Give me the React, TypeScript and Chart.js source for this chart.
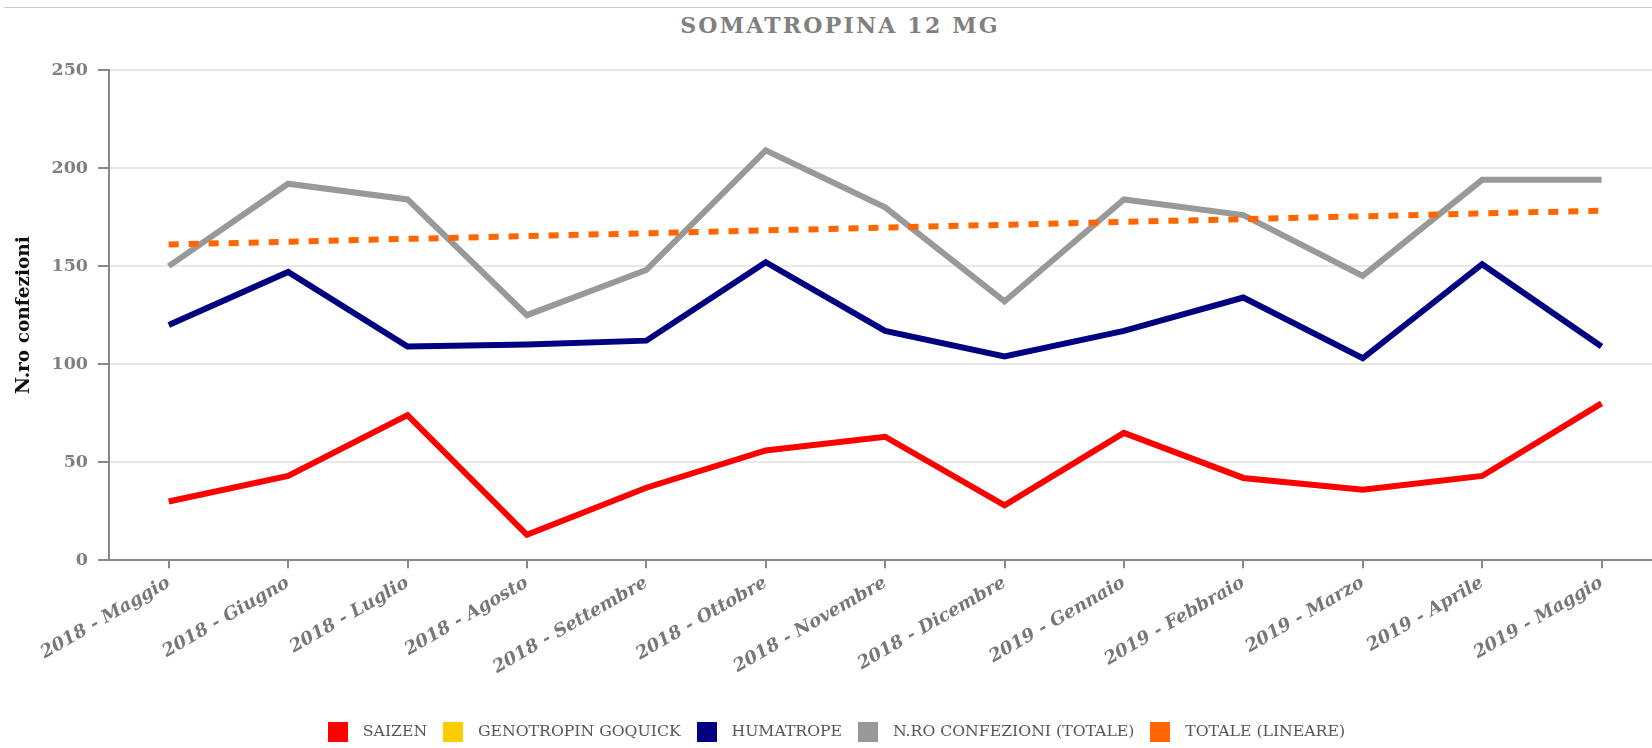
import { useEffect, useRef } from 'react';
import { Chart, registerables } from 'chart.js';

Chart.register(...registerables);

const TITLE = 'SOMATROPINA 12 MG';
const Y_TITLE = 'N.ro confezioni';

const months = [
  '2018 - Maggio',
  '2018 - Giugno',
  '2018 - Luglio',
  '2018 - Agosto',
  '2018 - Settembre',
  '2018 - Ottobre',
  '2018 - Novembre',
  '2018 - Dicembre',
  '2019 - Gennaio',
  '2019 - Febbraio',
  '2019 - Marzo',
  '2019 - Aprile',
  '2019 - Maggio',
];

const yTicks = [0, 50, 100, 150, 200, 250];

const saizen = [30, 43, 74, 13, 37, 56, 63, 28, 65, 42, 36, 43, 80];
const genotropin: number[] = [];
const humatrope = [120, 147, 109, 110, 112, 152, 117, 104, 117, 134, 103, 151, 109];
const totale = [150, 192, 184, 125, 148, 209, 180, 132, 184, 176, 145, 194, 194];
const trendX = [0, 12];
const trendY = [161, 178.3];

const seriesLabels = [
  'SAIZEN',
  'GENOTROPIN GOQUICK',
  'HUMATROPE',
  'N.RO CONFEZIONI (TOTALE)',
  'TOTALE (LINEARE)',
];
const seriesColors = ['#ff0000', '#ffcc00', '#000080', '#999999', '#ff6600'];

const FONT = '"DejaVu Serif", serif';

// canvas slightly larger than the page window; the extra part is clipped
const CANVAS_W = 1666;
const CANVAS_H = 750;

function boxImage(color: string) {
  const c = document.createElement('canvas');
  c.width = 20;
  c.height = 20;
  const g = c.getContext('2d')!;
  g.fillStyle = color;
  g.fillRect(0, 0, 20, 20);
  return c;
}

export default function App() {
  const ref = useRef<HTMLCanvasElement>(null);

  useEffect(() => {
    if (!ref.current) return;
    const toXY = (arr: number[]) => arr.map((v, i) => ({ x: i, y: v }));
    const series = [
      toXY(saizen),
      toXY(genotropin),
      toXY(humatrope),
      toXY(totale),
      trendX.map((x, i) => ({ x, y: trendY[i] })),
    ];
    const chart = new Chart(ref.current, {
      type: 'line',
      data: {
        datasets: series.map((data, i) => ({
          label: seriesLabels[i],
          data,
          borderColor: seriesColors[i],
          backgroundColor: seriesColors[i],
          borderWidth: 6,
          borderDash: i === 4 ? [10, 10] : [],
          order: i === 4 ? -1 : i,
          pointRadius: 0,
          pointHoverRadius: 0,
          tension: 0,
          fill: false,
        })),
      },
      options: {
        animation: false,
        responsive: false,
        devicePixelRatio: 1,
        events: [],
        layout: { padding: { left: 0, right: 0, top: 70, bottom: 0 } },
        plugins: {
          title: { display: false },
          tooltip: { enabled: false },
          legend: {
            position: 'bottom',
            labels: {
              usePointStyle: true,
              pointStyleWidth: 34,
              boxHeight: 16,
              padding: 9,
              color: '#555555',
              font: { family: FONT, size: 15.7 },
              sort: (a: any, b: any) => a.datasetIndex - b.datasetIndex,
              generateLabels: (ch: any) =>
                (Chart.defaults.plugins.legend.labels as any)
                  .generateLabels(ch)
                  .map((l: any) => ({
                    ...l,
                    pointStyle: boxImage(seriesColors[l.datasetIndex]),
                    lineWidth: 0,
                  })),
            },
          },
        },
        scales: {
          x: {
            type: 'linear',
            min: -0.5,
            max: 12.54,
            afterBuildTicks: (s: any) => {
              s.ticks = months.map((_, i) => ({ value: i }));
            },
            afterFit: (s: any) => {
              s.height = 155;
              s.paddingLeft = 0;
              s.paddingRight = 0;
            },
            ticks: {
              autoSkip: false,
              minRotation: 30,
              maxRotation: 30,
              padding: 4,
              color: '#777777',
              font: { family: FONT, size: 18, style: 'italic', weight: 'bold' },
              callback: (v: any) => months[v as number],
            },
            grid: {
              drawOnChartArea: false,
              drawTicks: true,
              tickLength: 8,
              color: '#888888',
              lineWidth: 2,
            },
            border: { display: true, color: '#888888', width: 2 },
          },
          y: {
            type: 'linear',
            min: 0,
            max: 250,
            afterBuildTicks: (s: any) => {
              s.ticks = yTicks.map((v) => ({ value: v }));
            },
            afterFit: (s: any) => {
              s.width = 109;
              s.paddingTop = 0;
              s.paddingBottom = 0;
            },
            ticks: {
              padding: 10,
              color: '#808080',
              font: { family: FONT, size: 17.5, weight: 'bold' },
            },
            grid: {
              color: '#e8e8e8',
              lineWidth: 2,
              tickColor: '#888888',
              tickWidth: 2,
              tickLength: 11,
              drawTicks: true,
            },
            border: { display: true, color: '#888888', width: 2 },
            title: {
              display: true,
              text: Y_TITLE,
              color: '#111111',
              font: { family: FONT, size: 18.5, weight: 'bold' },
              padding: { top: 13, bottom: 0 },
            },
          },
        },
      } as any,
    });
    return () => chart.destroy();
  }, []);

  return (
    <div
      style={{
        position: 'absolute',
        left: 0,
        top: 0,
        width: 1652,
        height: 748,
        background: '#ffffff',
        overflow: 'hidden',
      }}
    >
      <div
        style={{
          position: 'absolute',
          left: 4,
          right: 0,
          top: 7,
          height: 1,
          background: '#c8c8c8',
        }}
      />
      <div
        style={{
          position: 'absolute',
          left: 840,
          top: 14,
          transform: 'translateX(-50%)',
          fontFamily: FONT,
          fontSize: 22,
          fontWeight: 'bold',
          lineHeight: '22px',
          letterSpacing: '2.2px',
          color: '#808080',
          whiteSpace: 'nowrap',
        }}
      >
        {TITLE}
      </div>
      <canvas
        ref={ref}
        width={CANVAS_W}
        height={CANVAS_H}
        style={{ position: 'absolute', left: 0, top: 0, width: CANVAS_W, height: CANVAS_H }}
      />
    </div>
  );
}
